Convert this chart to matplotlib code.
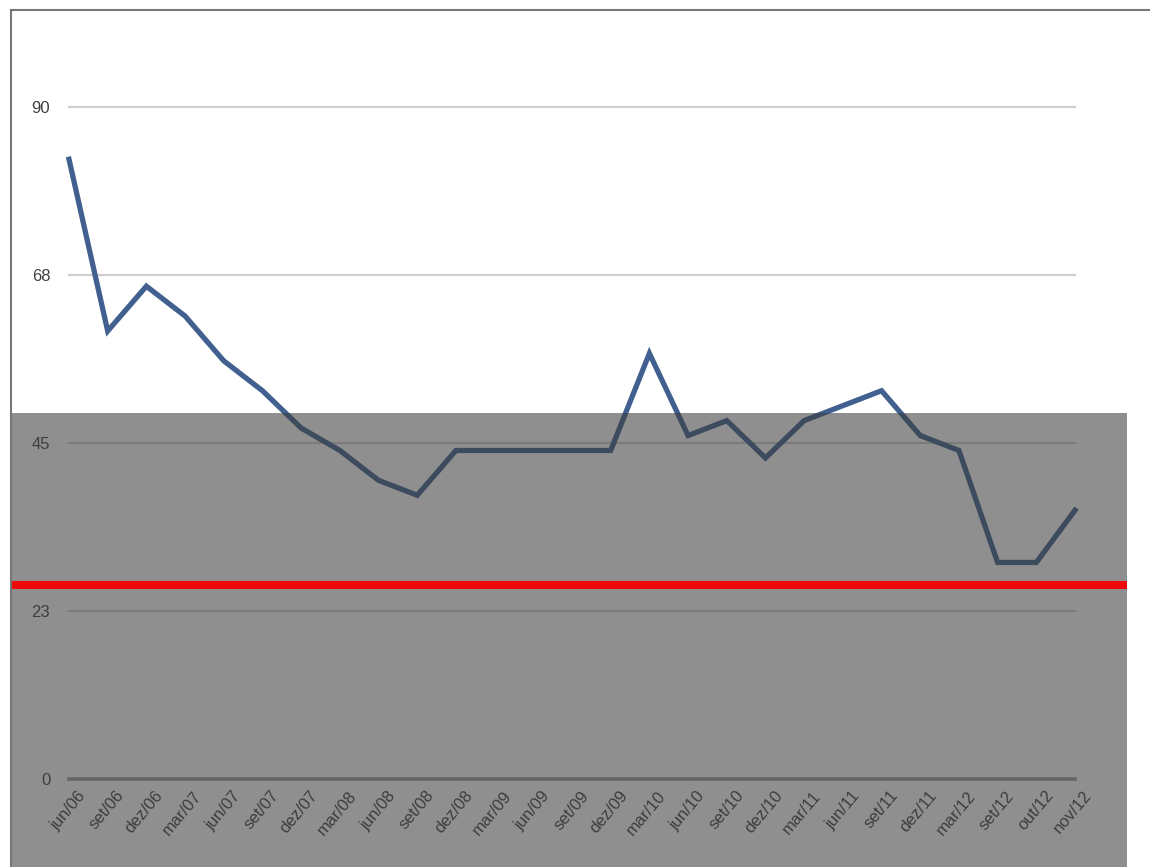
import matplotlib
matplotlib.use("Agg")
import matplotlib.pyplot as plt
import matplotlib.transforms as mtransforms
from matplotlib.patches import Rectangle
from matplotlib.lines import Line2D

# ---- data ----
labels = ["jun/06", "set/06", "dez/06", "mar/07", "jun/07", "set/07", "dez/07",
          "mar/08", "jun/08", "set/08", "dez/08", "mar/09", "jun/09", "set/09",
          "dez/09", "mar/10", "jun/10", "set/10", "dez/10", "mar/11", "jun/11",
          "set/11", "dez/11", "mar/12", "set/12", "out/12", "nov/12"]
values = [83, 60, 66, 62, 56, 52, 47, 44, 40, 38, 44, 44, 44, 44, 44, 57, 46, 48,
          43, 48, 50, 52, 46, 44, 29, 29, 36]
ytick_vals = [0, 22.5, 45, 67.5, 90]
ytick_labels = ["0", "23", "45", "68", "90"]
red_level = 26.0
band_top = 49.0

plt.rcParams['font.family'] = ['Liberation Sans', 'DejaVu Sans']

W, H = 1150, 867
fig = plt.figure(figsize=(W / 100, H / 100), dpi=100)
fig.patch.set_facecolor('white')

ax_left, ax_right = 69, 1075
ax_y0, ax_y90 = 779, 107
ax = fig.add_axes([ax_left / W, (H - ax_y0) / H, (ax_right - ax_left) / W, (ax_y0 - ax_y90) / H])
ax.set_facecolor('none')
for s in ax.spines.values():
    s.set_visible(False)

x = list(range(len(labels)))
ax.set_xlim(0, len(labels) - 1)
ax.set_ylim(0, 90)

for yv in ytick_vals[1:]:
    ax.axhline(yv, color='#cfcfcf', lw=1.6, zorder=1, clip_on=False)
ax.axhline(0, color='#a0a0a0', lw=2.6, zorder=1, clip_on=False)

ax.plot(x, values, color='#41608f', lw=3.8, solid_joinstyle='miter', zorder=3, clip_on=False)

ax.set_yticks(ytick_vals)
ax.set_yticklabels(ytick_labels)
ax.tick_params(axis='y', length=0, pad=13.5, labelsize=12, labelcolor='#404040')
ax.set_xticks(x)
ax.set_xticklabels(labels, rotation=50, ha='right', va='center', rotation_mode='anchor')
ax.tick_params(axis='x', length=0, pad=10, labelsize=12, labelcolor='#404040')
offset = mtransforms.ScaledTranslation(14 / 100, 0, fig.dpi_scale_trans)
for lbl in ax.get_xticklabels():
    lbl.set_transform(lbl.get_transform() + offset)

# gray overlay band (figure coordinates)
band_px_top = ax_y0 - band_top * (ax_y0 - ax_y90) / 90
fig.add_artist(Rectangle((11 / W, 0), (1127 - 11) / W, (H - band_px_top) / H,
                         transform=fig.transFigure, facecolor='#3b3b3b', alpha=0.57,
                         edgecolor='none', zorder=10))

# red line
red_px = ax_y0 - red_level * (ax_y0 - ax_y90) / 90
fig.add_artist(Line2D([11 / W, 1127 / W], [(H - red_px) / H] * 2,
                      transform=fig.transFigure, color='#ee0a0a', lw=5.8, zorder=11,
                      solid_capstyle='butt'))

# frame lines
fig.add_artist(Line2D([11 / W, 1], [(H - 10) / H] * 2, transform=fig.transFigure,
                      color='#777777', lw=1.5, zorder=12))
fig.add_artist(Line2D([11 / W, 11 / W], [0, (H - 10) / H], transform=fig.transFigure,
                      color='#777777', lw=1.5, zorder=12))

fig.savefig('out.png', dpi=100)
